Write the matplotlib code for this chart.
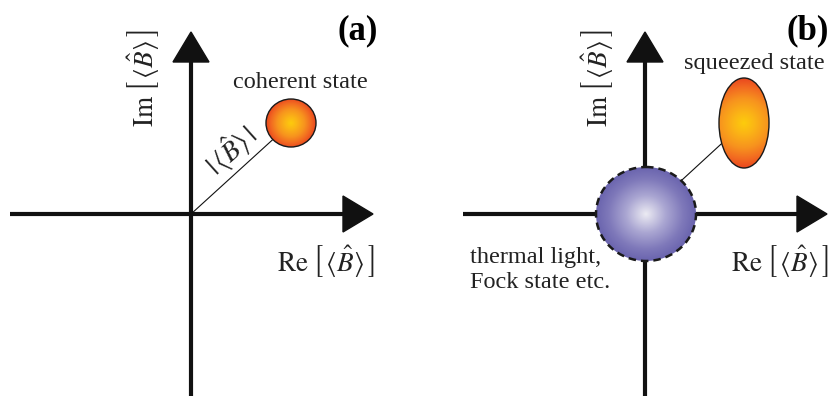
import numpy as np
import matplotlib
matplotlib.use("Agg")
import matplotlib.pyplot as plt
from matplotlib.patches import Ellipse, Polygon
from matplotlib.colors import LinearSegmentedColormap

plt.rcParams['font.family'] = ['Liberation Serif', 'DejaVu Serif']
plt.rcParams['mathtext.fontset'] = 'stix'

W, H = 829, 396
# panel geometry (pixel coords)
panels = ["(a)", "(b)"]
origins = [(191, 214), (645, 214)]
x_left = [10, 463]
x_tip = [373, 827]
y_tip = 32
head_len = 30
head_half = 18
state_labels = ["coherent state", "squeezed state"]
state_centers = [(291, 123), (744, 123)]
state_semi = [(25, 24), (25, 45)]
label_pos = [(300, 82), (754, 64)]
thermal_center = (646, 214)
thermal_semi = (50, 47)

orange = LinearSegmentedColormap.from_list(
    "or", [(0, "#fdcc0c"), (0.25, "#fbb416"), (0.55, "#f7931e"), (0.8, "#f26a21"), (1, "#e9471e")])
blue = LinearSegmentedColormap.from_list(
    "bl", [(0, "#ecebf3"), (0.4, "#aaa6d2"), (0.75, "#7f79ba"), (1, "#6a64ae")])

fig = plt.figure(figsize=(W / 100, H / 100), dpi=100)
ax = fig.add_axes([0, 0, 1, 1])
ax.set_xlim(0, W)
ax.set_ylim(H, 0)
ax.axis('off')

lw = 3.0
txt = '#222222'


def gradient_ellipse(c, semi, cmap, z, edge_ls='-', edge_lw=1.0, circular=False):
    cx, cy = c
    a, b = semi
    xs = np.linspace(cx - a, cx + a, 200)
    ys = np.linspace(cy - b, cy + b, 300)
    X, Y = np.meshgrid(xs, ys)
    if circular:
        R = np.hypot(X - cx, Y - cy) / max(a, b)
    else:
        R = np.sqrt(((X - cx) / a) ** 2 + ((Y - cy) / b) ** 2)
    im = ax.imshow(np.clip(R, 0, 1), cmap=cmap, vmin=0, vmax=1,
                   extent=(cx - a, cx + a, cy + b, cy - b), zorder=z,
                   interpolation='bilinear', aspect='auto')
    clip = Ellipse(c, 2 * a, 2 * b, facecolor='none', edgecolor='none')
    ax.add_patch(clip)
    im.set_clip_path(clip)
    ax.add_patch(Ellipse(c, 2 * a, 2 * b, facecolor='none', edgecolor='#1a1a1a',
                         lw=edge_lw, ls=edge_ls, zorder=z + 0.1))


im_label = r'$\mathrm{Im}\;\left[\,\langle\hat{B}\rangle\,\right]$'
re_label = r'$\mathrm{Re}\;\left[\,\langle\hat{B}\rangle\,\right]$'

for i in range(2):
    ox, oy = origins[i]
    # horizontal axis
    ax.plot([x_left[i], x_tip[i] - head_len + 2], [oy, oy], color='#111111', lw=lw,
            solid_capstyle='butt', zorder=2)
    ax.add_patch(Polygon([(x_tip[i] - head_len, oy - head_half), (x_tip[i], oy),
                          (x_tip[i] - head_len, oy + head_half)], closed=True,
                         color='#111111', zorder=2))
    # vertical axis
    ax.plot([ox, ox], [H, y_tip + head_len - 2], color='#111111', lw=lw,
            solid_capstyle='butt', zorder=2)
    ax.add_patch(Polygon([(ox - head_half, y_tip + head_len), (ox, y_tip),
                          (ox + head_half, y_tip + head_len)], closed=True,
                         color='#111111', zorder=2))
    # line to state
    cx, cy = state_centers[i]
    ax.plot([ox, cx], [oy, cy], color='#111111', lw=0.8, zorder=3)
    gradient_ellipse(state_centers[i], state_semi[i], orange, 4, circular=True)
    ax.text(*label_pos[i], state_labels[i], fontsize=17.5, ha='center', va='center',
            color=txt, zorder=6)
    # axis labels
    ax.text(ox - 48, 78, im_label, fontsize=19.5,
            rotation=90, ha='center', va='center', color=txt)
    ax.text(x_tip[i] - 47, 261, re_label, fontsize=19.5,
            ha='center', va='center', color=txt)

ax.text(378, 31, panels[0], fontsize=25, fontweight='bold', ha='right', va='center')
ax.text(829, 31, panels[1], fontsize=25, fontweight='bold', ha='right', va='center')

# |<B>| label along the line
ax.text(231, 151, r'$|\,\langle\hat{B}\rangle\,|$', fontsize=20, rotation=42,
        ha='center', va='center', color=txt)

# thermal light blob
gradient_ellipse(thermal_center, thermal_semi, blue, 5, edge_ls=(0, (3, 2)), edge_lw=1.8)
ax.text(470, 270, "thermal light,\nFock state etc.", fontsize=17.5, ha='left', va='center',
        linespacing=1.2, color=txt)

fig.savefig("out.png", dpi=100)
